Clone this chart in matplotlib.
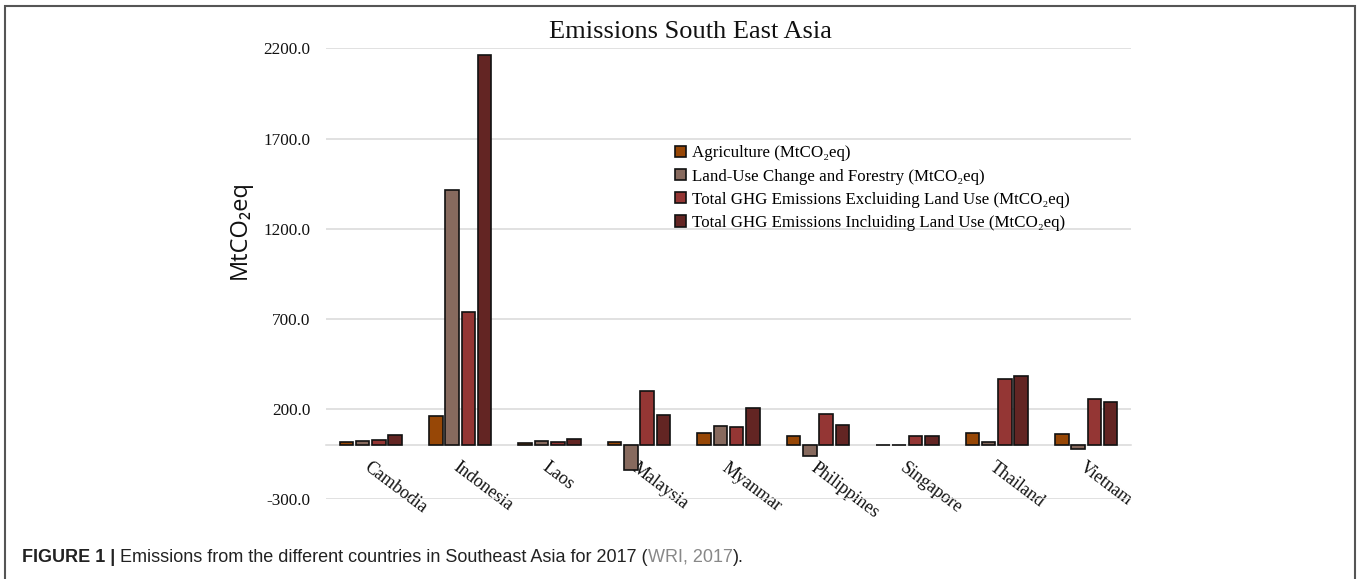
import matplotlib.pyplot as plt
import numpy as np
from matplotlib.patches import Rectangle

# Data (MtCO2eq)
countries = ["Cambodia", "Indonesia", "Laos", "Malaysia", "Myanmar",
             "Philippines", "Singapore", "Thailand", "Vietnam"]
agriculture = [18, 164, 11, 18, 68, 51, 1, 70, 64]
land_use = [25, 1416, 24, -140, 105, -62, 0.5, 17, -19]
total_excl = [27, 741, 17, 303, 101, 173, 53, 368, 255]
total_incl = [54, 2161, 33, 165, 204, 113, 53, 385, 239]

series_names = [
    "Agriculture (MtCO\u2082eq)",
    "Land-Use Change and Forestry (MtCO\u2082eq)",
    "Total GHG Emissions Excluiding Land Use (MtCO\u2082eq)",
    "Total GHG Emissions Incluiding Land Use (MtCO\u2082eq)",
]
colors = ["#974706", "#876a5e", "#943634", "#632523"]
yticks = [-300, 200, 700, 1200, 1700, 2200]

serif = ["Liberation Serif", "DejaVu Serif"]
W, H = 1358, 579
fig = plt.figure(figsize=(W / 100, H / 100), dpi=100)

# axes placed in pixel terms
left, right, top, bottom = 326, 1131, 48.3, 499.3
ax = fig.add_axes([left / W, 1 - bottom / H, (right - left) / W, (bottom - top) / H])

x = np.arange(len(countries))
width = 0.152
offsets = (np.arange(4) - 1.5) * 0.182
for i, vals in enumerate([agriculture, land_use, total_excl, total_incl]):
    ax.bar(x + offsets[i], vals, width, color=colors[i], edgecolor="#111111",
           linewidth=1.2, label=series_names[i], zorder=3)

ax.set_xlim(-0.5, len(countries) - 0.5)
ax.set_ylim(-300, 2200)
ax.set_yticks(yticks)
ax.set_yticklabels([f"{v:.1f}" for v in yticks], family=serif, fontsize=12.3, color="#111111")
ax.yaxis.grid(True, color="#d9d9d9", linewidth=1.1, zorder=0)
ax.tick_params(axis="y", length=0, pad=11)

for s in ["top", "right", "left"]:
    ax.spines[s].set_visible(False)
ax.spines["bottom"].set_position(("data", 0))
ax.spines["bottom"].set_color("#d9d9d9")
ax.spines["bottom"].set_linewidth(1.1)
ax.spines["bottom"].set_zorder(1)

ax.set_xticks(x)
ax.set_xticklabels(countries, family=serif, fontsize=13, rotation=-37,
                   ha="left", va="top", rotation_mode="anchor", color="#111111")
ax.tick_params(axis="x", length=0, pad=10)

fig.text(690 / W, 1 - 32 / H, "Emissions South East Asia", family=serif, fontsize=19,
         ha="center", va="center", color="#111111")
fig.text(240 / W, 1 - 230 / H, "MtCO\u2082eq", family=["Open Sans", "DejaVu Sans"],
         fontsize=17, rotation=90, ha="center", va="center", color="#111111")

ax.legend(loc="upper left", bbox_to_anchor=(667 / W, 1 - 137 / H),
          bbox_transform=fig.transFigure, frameon=False,
          prop={"family": serif, "size": 12.2}, handlelength=0.65, handleheight=0.65,
          handletextpad=0.3, labelspacing=0.42, borderpad=0)

# outer frame
fig.patches.append(Rectangle((5 / W, -0.1), 1350 / W, 1.1 - 6 / H, transform=fig.transFigure,
                             fill=False, edgecolor="#555555", linewidth=1.5))

# caption
cap_y = 1 - 557 / H
cap_font = ["Liberation Sans Narrow", "Liberation Sans", "DejaVu Sans"]
t1 = fig.text(22 / W, cap_y, "FIGURE 1 | ", family=cap_font, fontsize=13,
              fontweight="bold", va="center", color="#222222")
fig.canvas.draw()
r = fig.canvas.get_renderer()
xpos = t1.get_window_extent(r).x1
parts = [("Emissions from the different countries in Southeast Asia for 2017 (", "#222222"),
         ("WRI, 2017", "#888888"), (").", "#222222")]
for txt, col in parts:
    t = fig.text(xpos / W, cap_y, txt, family=cap_font, fontsize=13, va="center", color=col)
    xpos = t.get_window_extent(r).x1

fig.savefig("out.png", dpi=100)
